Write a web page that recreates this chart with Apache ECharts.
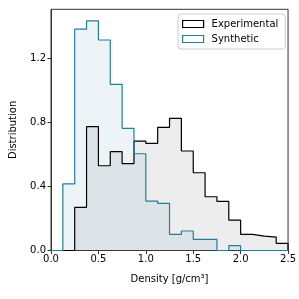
<!DOCTYPE html>
<html><head><meta charset="utf-8">
<script src="https://cdn.jsdelivr.net/npm/echarts@6/dist/echarts.min.js"></script>
<style>html,body{margin:0;padding:0;background:#fff}#c{width:299px;height:299px}</style>
</head><body><div id="c"></div>
<script>
const binEdges = [0,0.125,0.25,0.375,0.5,0.625,0.75,0.875,1.0,1.125,1.25,1.375,1.5,1.625,1.75,1.875,2.0,2.125,2.25,2.375,2.5];
const experimental = [0,0,0.27,0.774,0.53,0.618,0.543,0.684,0.67,0.77,0.826,0.622,0.486,0.336,0.307,0.19,0.101,0.09,0.084,0.045];
const synthetic = [0,0.416,1.384,1.436,1.316,1.039,0.764,0.605,0.309,0.295,0.101,0.122,0.07,0.07,0,0.03,0,0,0,0];
const xTicks = [0,0.5,1.0,1.5,2.0,2.5];
const yTicks = [0,0.4,0.8,1.2];

function stepPoints(vals){
  const pts=[[binEdges[0],0]];
  for(let i=0;i<vals.length;i++) pts.push([binEdges[i],vals[i]]);
  pts.push([binEdges[vals.length],0]);
  return pts;
}
const font='DejaVu Sans';
const chart=echarts.init(document.getElementById('c'),null,{renderer:'canvas'});
chart.setOption({
  animation:false,
  textStyle:{fontFamily:font},
  grid:{left:47.5,right:9.7,top:9.3,bottom:48.5,show:true,borderColor:'#333',borderWidth:1,backgroundColor:'transparent'},
  legend:{
    left:178,top:14,orient:'vertical',
    itemWidth:21,itemHeight:7,itemGap:3,
    padding:[4,7,4,4],
    borderColor:'#ccc',borderWidth:1,borderRadius:3,backgroundColor:'#fff',
    icon:'rect',
    textStyle:{fontFamily:font,fontSize:10,color:'#000',padding:[0,0,0,3],lineHeight:12},
    data:[
      {name:'Experimental',itemStyle:{color:'#fff',borderColor:'#000',borderWidth:1.2}},
      {name:'Synthetic',itemStyle:{color:'#fff',borderColor:'#227f99',borderWidth:1.2}}
    ]
  },
  xAxis:{type:'value',min:0,max:2.5,interval:0.5,
    name:'Density [g/cm³]',nameLocation:'middle',nameGap:24,
    nameTextStyle:{fontFamily:font,fontSize:10,color:'#000'},
    axisLine:{show:true,onZero:false,lineStyle:{color:'#333',width:1}},
    axisTick:{show:true,length:3.5,lineStyle:{color:'#333'},customValues:xTicks},
    axisLabel:{fontFamily:font,fontSize:10,color:'#000',margin:4,customValues:xTicks,formatter:v=>v.toFixed(1)},
    splitLine:{show:false}},
  yAxis:{type:'value',min:0,max:1.508,
    name:'Distribution',nameLocation:'middle',nameGap:33,
    nameTextStyle:{fontFamily:font,fontSize:10,color:'#000'},
    axisLine:{show:true,lineStyle:{color:'#333',width:1}},
    axisTick:{show:true,length:3.5,lineStyle:{color:'#333'},customValues:yTicks},
    axisLabel:{fontFamily:font,fontSize:10,color:'#000',margin:5,customValues:yTicks,formatter:v=>v.toFixed(1)},
    splitLine:{show:false}},
  series:[
    {name:'Experimental',type:'line',step:'end',symbol:'none',data:stepPoints(experimental),
      lineStyle:{color:'#000',width:1.2},itemStyle:{color:'#000'},
      areaStyle:{color:'rgba(128,128,128,0.2)',origin:'start'}},
    {name:'Synthetic',type:'line',step:'end',symbol:'none',data:stepPoints(synthetic),
      lineStyle:{color:'#227f99',width:1.2},itemStyle:{color:'#227f99'},
      areaStyle:{color:'rgba(31,127,160,0.12)',origin:'start'}}
  ]
});
</script></body></html>
